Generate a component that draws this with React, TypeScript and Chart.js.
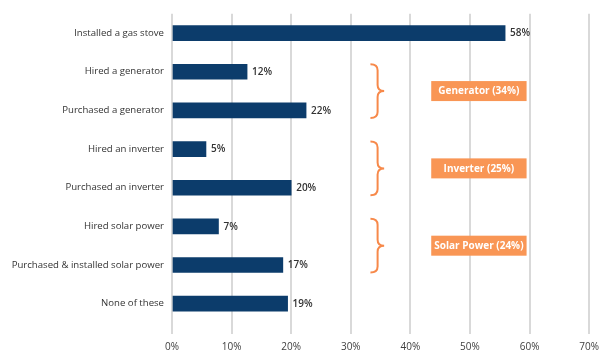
import React, { useEffect, useRef } from "react";
import { Chart, registerables } from "chart.js";

Chart.register(...registerables);

const categories = [
  "Installed a gas stove",
  "Hired a generator",
  "Purchased a generator",
  "Hired an inverter",
  "Purchased an inverter",
  "Hired solar power",
  "Purchased & installed solar power",
  "None of these",
];

// bar lengths as drawn in the picture (%)
const values = [55.9, 12.6, 22.5, 5.7, 20.0, 7.8, 18.6, 19.4];

// value labels as printed
const valueLabels = ["58%", "12%", "22%", "5%", "20%", "7%", "17%", "19%"];

const xTicks = [0, 10, 20, 30, 40, 50, 60, 70];

const groupLabels = ["Generator (34%)", "Inverter (25%)", "Solar Power (24%)"];
const groupStart = [1, 3, 5];
const groupEnd = [2, 4, 6];

const FONT = "'Open Sans', 'DejaVu Sans', sans-serif";
const BAR = "#0c3c6b";
const ORANGE_BOX = "#f99655";
const ORANGE_LINE = "#f7894a";

const valueLabelPlugin = {
  id: "valueLabels",
  afterDatasetsDraw(chart: any) {
    const ctx = chart.ctx;
    const meta = chart.getDatasetMeta(0);
    ctx.save();
    ctx.font = `600 10px ${FONT}`;
    ctx.fillStyle = "#333333";
    ctx.textAlign = "left";
    ctx.textBaseline = "middle";
    meta.data.forEach((bar: any, i: number) => {
      ctx.fillText(valueLabels[i], bar.x + 5, bar.y + 0.5);
    });
    ctx.restore();
  },
};

const groupPlugin = {
  id: "groups",
  afterDraw(chart: any) {
    const ctx = chart.ctx;
    const xs = chart.scales.x;
    const ys = chart.scales.y;
    const half = 7.5;
    const xl = xs.getPixelForValue(33.3);
    const xsp = xs.getPixelForValue(34.5);
    const xt = xs.getPixelForValue(35.6);
    const bx0 = xs.getPixelForValue(43.5);
    const bx1 = xs.getPixelForValue(59.5);
    ctx.save();
    groupLabels.forEach((label, g) => {
      const yt = ys.getPixelForValue(groupStart[g]) - half;
      const yb = ys.getPixelForValue(groupEnd[g]) + half;
      const ym = (yt + yb) / 2;
      const r = 6;
      ctx.beginPath();
      ctx.strokeStyle = ORANGE_LINE;
      ctx.lineWidth = 2;
      ctx.moveTo(xl, yt);
      ctx.quadraticCurveTo(xsp, yt, xsp, yt + r);
      ctx.lineTo(xsp, ym - r);
      ctx.quadraticCurveTo(xsp, ym, xt, ym);
      ctx.quadraticCurveTo(xsp, ym, xsp, ym + r);
      ctx.lineTo(xsp, yb - r);
      ctx.quadraticCurveTo(xsp, yb, xl, yb);
      ctx.stroke();

      const bh = 20;
      ctx.fillStyle = ORANGE_BOX;
      ctx.fillRect(bx0, ym - bh / 2, bx1 - bx0, bh);
      ctx.fillStyle = "#ffffff";
      ctx.font = `bold 10px ${FONT}`;
      ctx.textAlign = "center";
      ctx.textBaseline = "middle";
      ctx.fillText(label, (bx0 + bx1) / 2, ym + 0.5);
    });
    ctx.restore();
  },
};

export default function App() {
  const ref = useRef<HTMLCanvasElement | null>(null);

  useEffect(() => {
    document.body.style.margin = "0";
    const canvas = ref.current;
    if (!canvas) return;
    const chart = new Chart(canvas, {
      type: "bar",
      data: {
        labels: categories,
        datasets: [
          {
            data: values,
            backgroundColor: BAR,
            barThickness: 15,
          },
        ],
      },
      options: {
        indexAxis: "y",
        animation: false,
        responsive: true,
        maintainAspectRatio: false,
        layout: { padding: { top: 12, right: 14, bottom: 0, left: 0 } },
        plugins: {
          legend: { display: false },
          tooltip: { enabled: false },
        },
        scales: {
          x: {
            type: "linear",
            min: xTicks[0],
            max: xTicks[xTicks.length - 1],
            afterFit: (scale: any) => {
              scale.height = 38;
            },
            afterBuildTicks: (scale: any) => {
              scale.ticks = xTicks.map((v) => ({ value: v }));
            },
            ticks: {
              callback: (v: any) => `${v}%`,
              font: { family: FONT, size: 10 },
              color: "#404040",
              padding: 7,
              maxRotation: 0,
            },
            grid: {
              color: "#d9d9d9",
              lineWidth: 2,
              drawTicks: true,
              tickLength: 11,
            },
            border: { display: false },
          },
          y: {
            type: "category",
            afterFit: (scale: any) => {
              scale.width = 172;
            },
            ticks: {
              font: { family: FONT, size: 9.6 },
              color: "#333333",
              padding: 8,
            },
            grid: { display: false, drawTicks: false },
            border: { display: false },
          },
        },
      },
      plugins: [valueLabelPlugin, groupPlugin],
    });
    return () => chart.destroy();
  }, []);

  return (
    <div style={{ width: 606, height: 361, position: "relative", background: "#ffffff" }}>
      <canvas ref={ref} />
    </div>
  );
}
